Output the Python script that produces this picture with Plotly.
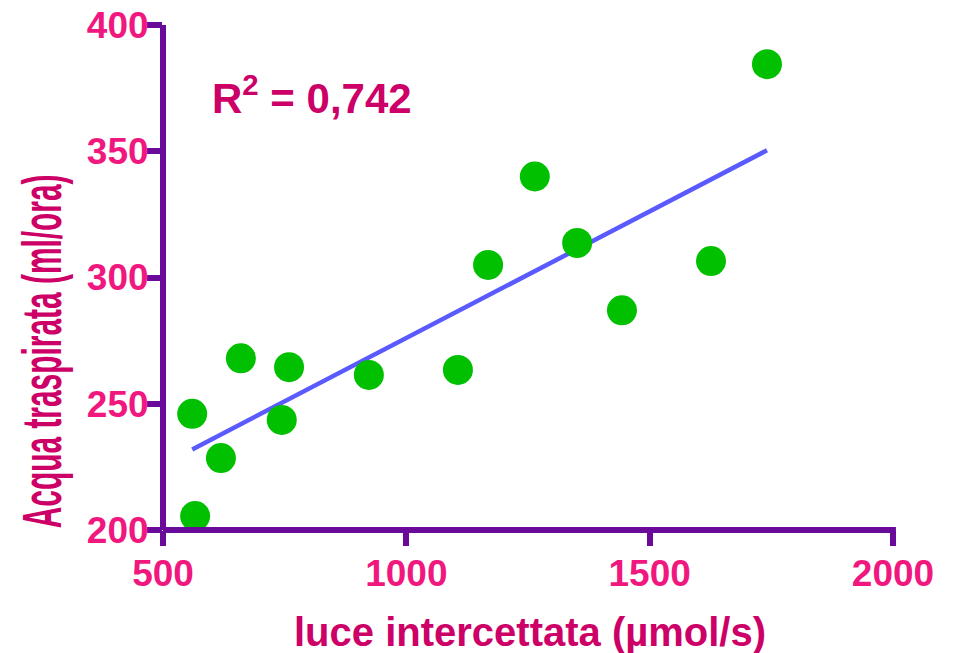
import numpy as np
import plotly.graph_objects as go

# ---- data ----
luce = [560, 566, 619, 660, 744, 759, 923, 1106, 1168, 1264, 1351, 1443, 1626, 1741]
acqua = [246, 205.5, 228.5, 268, 243.6, 264.5, 261.4, 263.4, 305, 340, 313.7, 287, 306.5, 384.5]
x_ticks = [500, 1000, 1500, 2000]
y_ticks = [200, 250, 300, 350, 400]
r2_text = "R<sup>2</sup> = 0,742"
x_title = "luce intercettata (µmol/s)"
y_title = "Acqua traspirata (ml/ora)"

X_RANGE = [500, 2000]
Y_RANGE = [200, 400]

# regression line from the data
slope, intercept = np.polyfit(luce, acqua, 1)
fit_x = [min(luce), max(luce)]
fit_y = [slope * v + intercept for v in fit_x]

PURPLE = "#6a0a9a"
PINK = "#f0187f"
MAGENTA = "#cc0066"
FONT = "Liberation Sans, Arial, Helvetica, sans-serif"

fig = go.Figure()
fig.add_trace(go.Scatter(x=fit_x, y=fit_y, mode="lines",
                         line=dict(color="#5a5aff", width=4.5), hoverinfo="skip"))
fig.add_trace(go.Scatter(x=luce, y=acqua, mode="markers",
                         marker=dict(color="#00c000", size=30, line=dict(width=0))))

axis_common = dict(showgrid=False, zeroline=False, showline=False, automargin=False,
                   ticks="outside", ticklen=15, tickwidth=6, tickcolor=PURPLE,
                   tickfont=dict(family=FONT, size=37, color=PINK, weight="bold"))

fig.update_xaxes(range=X_RANGE, tickvals=x_ticks, ticktext=[str(v) for v in x_ticks],
                 ticklabelstandoff=-4, **axis_common)
fig.update_yaxes(range=Y_RANGE, tickvals=y_ticks, ticktext=[str(v) for v in y_ticks],
                 ticklabelstandoff=-9, **axis_common)

# axis lines crossing at the range origin (paper refs so they are not clipped)
fig.add_shape(type="line", xref="paper", yref="paper", x0=0, x1=1.004, y0=0, y1=0,
              line=dict(color=PURPLE, width=6), layer="above")
fig.add_shape(type="line", xref="paper", yref="paper", x0=0, x1=0, y0=0, y1=1,
              line=dict(color=PURPLE, width=6), layer="above")

fig.add_annotation(text=r2_text, xref="paper", yref="paper", x=0.065, y=0.862,
                   xanchor="left", yanchor="middle", showarrow=False,
                   font=dict(family=FONT, size=42, color=MAGENTA, weight="bold"))
fig.add_annotation(text=x_title, xref="paper", yref="paper", x=0.503, y=-0.202,
                   xanchor="center", yanchor="middle", showarrow=False,
                   font=dict(family=FONT, size=40, color=MAGENTA, weight="bold"))
fig.add_annotation(text=y_title, xref="paper", yref="paper", x=-0.1656, y=0.353,
                   xanchor="center", yanchor="middle", showarrow=False, textangle=-90,
                   font=dict(family=FONT, size=55, color=MAGENTA, weight="bold"))

fig.update_layout(width=955, height=653, showlegend=False,
                  margin=dict(l=163, r=62, t=25, b=123, autoexpand=False),
                  paper_bgcolor="white", plot_bgcolor="white")

# remove the page margin and condense the vertical title along its length
post = """
document.body.style.margin = '0';
document.body.style.padding = '0';
var gd = document.getElementById('{plot_id}');
gd.querySelectorAll('text.annotation-text').forEach(function(t){
  if (t.textContent.indexOf('Acqua') === 0) {
    var bb = t.getBBox();
    var s = 354 / bb.width;
    var cx = bb.x + bb.width / 2;
    t.setAttribute('transform', 'translate(' + cx + ',0) scale(' + s + ',1) translate(' + (-cx) + ',0)');
  }
});
"""
fig.write_html("out.html", post_script=post, config={"displayModeBar": False})
